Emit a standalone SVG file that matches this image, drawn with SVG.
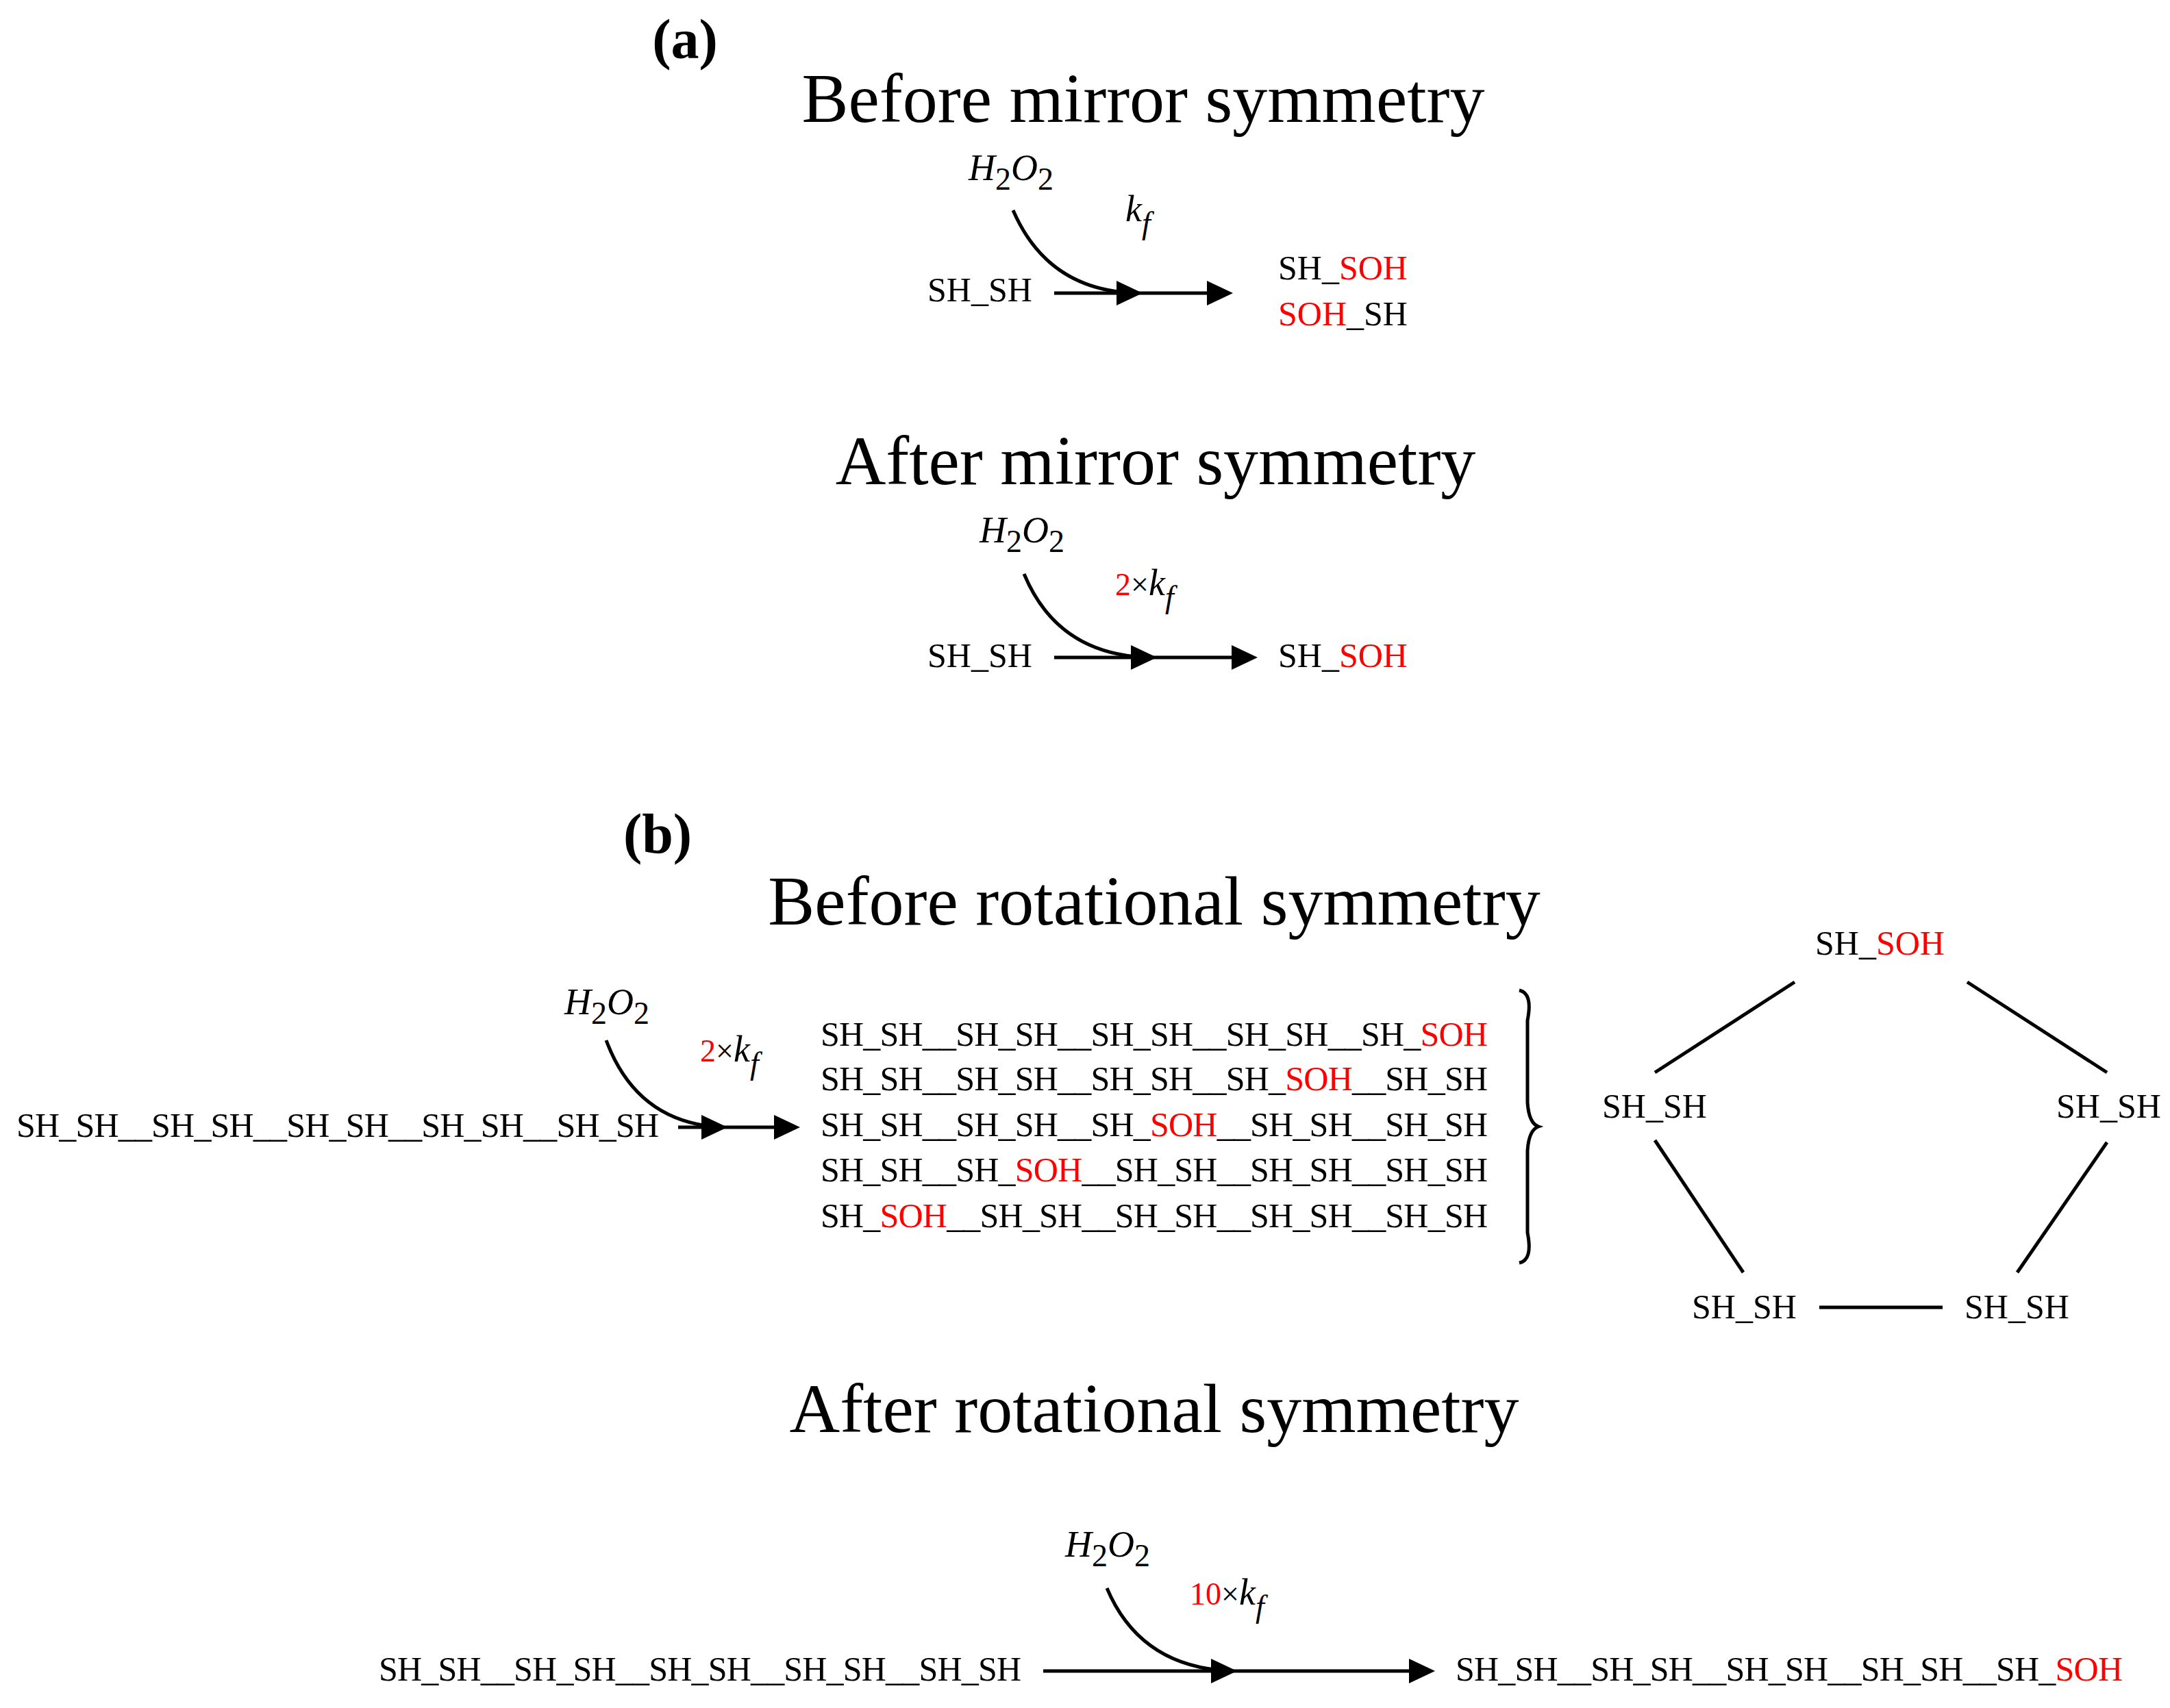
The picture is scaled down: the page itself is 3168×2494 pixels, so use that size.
<svg xmlns="http://www.w3.org/2000/svg" width="3168" height="2494" viewBox="0 0 3168 2494">
<style>
text{font-family:"Liberation Serif","DejaVu Serif",serif;fill:#000}
.t{font-size:102px;text-anchor:middle}
.lab{font-size:82px;font-weight:bold;text-anchor:middle}
.s{font-size:50px}
.m{font-size:54px;font-style:italic}
.sub{font-size:46px;font-style:normal}
.n{font-style:normal;font-size:46px}
.r{fill:#f00}
.ln{stroke:#000;stroke-width:5;fill:none}
</style>
<defs>
<path id="ah" d="M0,0 L-38,-18 L-38,18 Z" fill="#000"/>
</defs>
<rect width="3168" height="2494" fill="#fff"/>
<text class="lab" x="1000" y="85">(a)</text>
<text class="t" x="1669" y="178">Before mirror symmetry</text>
<text class="t" x="1687" y="707">After mirror symmetry</text>
<text class="lab" x="960" y="1245">(b)</text>
<text class="t" x="1685" y="1350">Before rotational symmetry</text>
<text class="t" x="1685" y="2091">After rotational symmetry</text>
<g id="connectors">
<path class="ln" d="M1479,307 Q1530,425 1660,428"/>
<line class="ln" x1="1539" y1="428" x2="1770" y2="428"/>
<use href="#ah" x="1668" y="428"/><use href="#ah" x="1800" y="428"/>
<path class="ln" d="M1495,838 Q1545,958 1681,960"/>
<line class="ln" x1="1539" y1="960" x2="1806" y2="960"/>
<use href="#ah" x="1689" y="960"/><use href="#ah" x="1836" y="960"/>
<path class="ln" d="M885,1519 Q930,1640 1054,1646"/>
<line class="ln" x1="990" y1="1646" x2="1140" y2="1646"/>
<use href="#ah" x="1062" y="1646"/><use href="#ah" x="1168" y="1646"/>
<path class="ln" d="M1616,2319 Q1665,2435 1798,2440"/>
<line class="ln" x1="1523" y1="2440" x2="2065" y2="2440"/>
<use href="#ah" x="1806" y="2440"/><use href="#ah" x="2095" y="2440"/>
<path class="ln" d="M2218,1446 Q2238,1450 2230,1490 L2230,1610 Q2232,1640 2246,1645 Q2232,1650 2230,1680 L2230,1800 Q2238,1840 2218,1844" stroke-width="4"/>
<line class="ln" x1="2620" y1="1434" x2="2416" y2="1566"/>
<line class="ln" x1="2872" y1="1434" x2="3076" y2="1566"/>
<line class="ln" x1="2416" y1="1665" x2="2545" y2="1858"/>
<line class="ln" x1="3076" y1="1668" x2="2945" y2="1858"/>
<line class="ln" x1="2656" y1="1909" x2="2836" y2="1909"/>
</g>
<g id="a-before">
<text class="m" x="1414" y="263">H<tspan class="sub" dy="14">2</tspan><tspan dy="-14">O</tspan><tspan class="sub" dy="14">2</tspan></text>
<text class="m" x="1643" y="323">k<tspan class="sub" style="font-style:italic" dy="18">f</tspan></text>
<text class="s" x="1354" y="440">SH_SH</text>
<text class="s" x="1866" y="408">SH_<tspan class="r">SOH</tspan></text>
<text class="s" x="1866" y="475"><tspan class="r">SOH</tspan>_SH</text>
</g>
<g id="a-after">
<text class="m" x="1430" y="792">H<tspan class="sub" dy="14">2</tspan><tspan dy="-14">O</tspan><tspan class="sub" dy="14">2</tspan></text>
<text class="m" x="1628" y="869"><tspan class="r n">2</tspan><tspan class="n">×</tspan>k<tspan class="sub" style="font-style:italic" dy="18">f</tspan></text>
<text class="s" x="1354" y="974">SH_SH</text>
<text class="s" x="1866" y="974">SH_<tspan class="r">SOH</tspan></text>
</g>
<g id="b-before">
<text class="m" x="824" y="1481">H<tspan class="sub" dy="14">2</tspan><tspan dy="-14">O</tspan><tspan class="sub" dy="14">2</tspan></text>
<text class="m" x="1022" y="1550"><tspan class="r n">2</tspan><tspan class="n">×</tspan>k<tspan class="sub" style="font-style:italic" dy="18">f</tspan></text>
<text class="s" x="24" y="1660" textLength="938">SH_SH__SH_SH__SH_SH__SH_SH__SH_SH</text>
<text class="s" x="1198" y="1527" textLength="974">SH_SH__SH_SH__SH_SH__SH_SH__SH_<tspan class="r">SOH</tspan></text>
<text class="s" x="1198" y="1592" textLength="974">SH_SH__SH_SH__SH_SH__SH_<tspan class="r">SOH</tspan>__SH_SH</text>
<text class="s" x="1198" y="1659" textLength="974">SH_SH__SH_SH__SH_<tspan class="r">SOH</tspan>__SH_SH__SH_SH</text>
<text class="s" x="1198" y="1725" textLength="974">SH_SH__SH_<tspan class="r">SOH</tspan>__SH_SH__SH_SH__SH_SH</text>
<text class="s" x="1198" y="1792" textLength="974">SH_<tspan class="r">SOH</tspan>__SH_SH__SH_SH__SH_SH__SH_SH</text>
</g>
<g id="pentagon">
<text class="s" x="2650" y="1394">SH_<tspan class="r">SOH</tspan></text>
<text class="s" x="2339" y="1632">SH_SH</text>
<text class="s" x="3002" y="1632">SH_SH</text>
<text class="s" x="2470" y="1925">SH_SH</text>
<text class="s" x="2868" y="1925">SH_SH</text>
</g>
<g id="b-after">
<text class="m" x="1555" y="2273">H<tspan class="sub" dy="14">2</tspan><tspan dy="-14">O</tspan><tspan class="sub" dy="14">2</tspan></text>
<text class="m" x="1737" y="2343"><tspan class="r n">10</tspan><tspan class="n">×</tspan>k<tspan class="sub" style="font-style:italic" dy="18">f</tspan></text>
<text class="s" x="553" y="2454" textLength="938">SH_SH__SH_SH__SH_SH__SH_SH__SH_SH</text>
<text class="s" x="2125" y="2454" textLength="974">SH_SH__SH_SH__SH_SH__SH_SH__SH_<tspan class="r">SOH</tspan></text>
</g>
</svg>
